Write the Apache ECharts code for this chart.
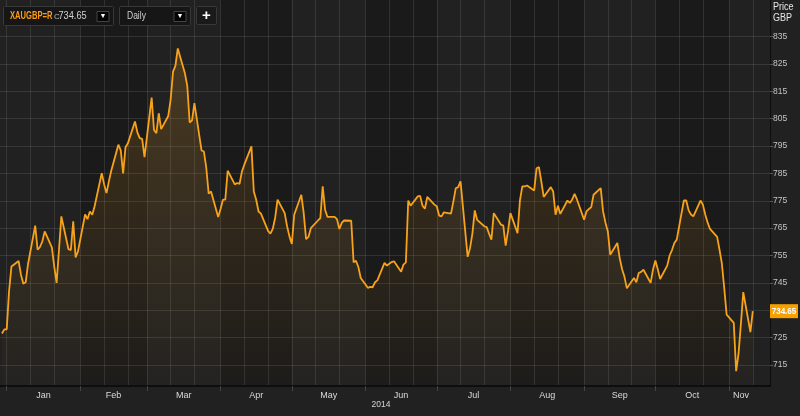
<!DOCTYPE html>
<html>
<head>
<meta charset="utf-8">
<script src="https://cdn.jsdelivr.net/npm/echarts@6/dist/echarts.min.js"></script>
<style>
html,body{margin:0;padding:0;background:#212121;}
#c{width:800px;height:416px;}
</style>
</head>
<body>
<div id="c"></div>
<script>
// ---------------- data ----------------
const symbol = 'XAUGBP=R';
const lastClose = 734.65;
const interval = 'Daily';
const yearLabel = '2014';
const monthNames = ['Jan','Feb','Mar','Apr','May','Jun','Jul','Aug','Sep','Oct','Nov','Dec'];
const yTicks = [715,725,735,745,755,765,775,785,795,805,815,825,835];

// daily closes, one value per weekday of each month
const dec13 = [726.5, 728];
const jan14 = [728, 742, 751, 753, 748, 744.7, 745.2, 752, 765.9, 757.1, 758.1, 760.2, 763.8, 758, 751, 745, 757, 769.3, 757.3, 757, 767.5, 754.3, 756.5];
const feb14 = [770, 768.3, 771.1, 769.9, 773, 785.1, 781, 777.8, 782.1, 786, 795.5, 793.4, 785, 794.6, 796, 804, 800, 797.9, 797.6, 791];
const mar14 = [812.7, 800.9, 799.7, 807, 801.2, 806, 812, 822.2, 824.3, 830.7, 821.6, 817, 803.6, 804.4, 810.7, 793.4, 793, 787, 777.6, 778.4, 769.1];
const apr14 = [772, 775.4, 775.4, 786, 781, 781.5, 781.2, 785.7, 788.2, 794.9, 778.4, 775.4, 771.1, 770.3, 764, 763, 764.8, 768.9, 775.4, 770.5, 765.7, 762];
const may14 = [759.2, 769.9, 777.2, 770.5, 761, 761.8, 765, 767.8, 768.7, 780.3, 771.7, 769.1, 769.1, 768.3, 764.7, 766.9, 767.8, 767.7, 752.5, 753.1, 750.8, 746.8];
const jun14 = [743.2, 743.5, 743.4, 745.2, 745.9, 752.3, 751.3, 752, 752.6, 752.9, 749.1, 751.7, 752.5, 775.1, 773.2, 776.6, 776.8, 773.2, 772.1, 776.4, 773.6];
const jul14 = [773, 769.6, 769.3, 770.8, 770.3, 774.8, 779.6, 780, 782.1, 754.5, 757.7, 763, 771.5, 768, 765.7, 765.4, 763, 760.8, 770.5, 766.3, 765.9, 758.6, 764];
const aug14 = [770.5, 763.2, 775.1, 780.3, 780.3, 780.6, 778.8, 786.9, 787.3, 782.1, 776.4, 780, 778.4, 769.9, 773.2, 770.2, 775.1, 774.2, 775.5, 777.5, 775.5];
const sep14 = [768.1, 771.1, 772, 772.6, 777.2, 779.6, 771.1, 767, 763.8, 755.3, 759.6, 754, 750, 747.2, 743, 746.8, 745.2, 748.6, 749, 749.8, 745, 749.8];
const oct14 = [753.2, 750, 746.4, 751.3, 755, 757, 759.6, 760.8, 775.1, 775.1, 771.5, 770, 769.3, 775.1, 773.6, 770, 767, 764.7, 761.8, 757.1, 752, 743, 733.4];
const nov14 = [730.4, 712.7, 719, 730, 741.6, 727, 734.65];

const months = [
  {y:2013, m:11, from:30, to:31, v:dec13},
  {y:2014, m:0, v:jan14}, {y:2014, m:1, v:feb14}, {y:2014, m:2, v:mar14},
  {y:2014, m:3, v:apr14}, {y:2014, m:4, v:may14}, {y:2014, m:5, v:jun14},
  {y:2014, m:6, v:jul14}, {y:2014, m:7, v:aug14}, {y:2014, m:8, v:sep14},
  {y:2014, m:9, v:oct14}, {y:2014, m:10, from:1, to:11, v:nov14}
];

// ---------------- build series ----------------
const DAY = 864e5;
const series = [];
months.forEach(g => {
  const last = g.to || new Date(Date.UTC(g.y, g.m + 1, 0)).getUTCDate();
  let k = 0;
  for (let d = (g.from || 1); d <= last; d++) {
    const t = Date.UTC(g.y, g.m, d);
    const wd = new Date(t).getUTCDay();
    if (wd === 0 || wd === 6) continue;
    series.push([t, g.v[k++]]);
  }
  if (k !== g.v.length) console.error('count mismatch', g.y, g.m, k, g.v.length);
});
const firstDate = Date.UTC(2014, 0, 1);
const lastDate = series[series.length - 1][0];
const xMin = firstDate - 2.82 * DAY;
const xMax = firstDate + 321.25 * DAY;
const yMin = 707.3, yMax = 848.4;

const monthStarts = [];
for (let m = 0; m < 11; m++) monthStarts.push(Date.UTC(2014, m, 1));
const gridDates = [];
for (let m = 0; m < 11; m++) [1, 11, 21].forEach(d => {
  const t = Date.UTC(2014, m, d);
  if (t <= xMax) gridDates.push(t);
});
const labelDates = monthStarts.map((t, i) => {
  const end = i < monthStarts.length - 1 ? monthStarts[i + 1] : lastDate;
  return (t + end) / 2;
});
const bands = monthStarts.map((t, i) => [t, i < monthStarts.length - 1 ? monthStarts[i + 1] : xMax, i % 2]);

// ---------------- chart ----------------
const FONT = '"Liberation Sans", Arial, sans-serif';
const chart = echarts.init(document.getElementById('c'), null, {renderer: 'canvas'});
const orange = '#f7a21b';

const option = {
  backgroundColor: '#212121',
  animation: false,
  grid: {left: 0, right: 30, top: 0, bottom: 30, containLabel: false},
  xAxis: [
    {
      type: 'value', min: xMin, max: xMax,
      axisLine: {show: false},
      axisTick: {show: false, customValues: gridDates},
      axisLabel: {show: false},
      splitLine: {show: true, lineStyle: {color: 'rgba(255,255,255,0.1)', width: 1}}
    },
    {
      type: 'value', min: xMin, max: xMax, position: 'bottom',
      axisLine: {show: true, onZero: false, lineStyle: {color: '#0d0d0d', width: 2}},
      axisTick: {show: true, customValues: monthStarts, length: 5, lineStyle: {color: '#444'}},
      axisLabel: {
        show: true, customValues: labelDates, color: '#dadada', fontSize: 9,
        fontFamily: FONT, margin: 5,
        formatter: v => monthNames[new Date(v).getUTCMonth()]
      },
      splitLine: {show: false}
    }
  ],
  yAxis: {
    type: 'value', position: 'right', min: yMin, max: yMax,
    axisLine: {show: true, lineStyle: {color: '#0d0d0d', width: 1}},
    axisTick: {show: true, customValues: yTicks, length: 3, lineStyle: {color: '#555'}},
    axisLabel: {show: true, customValues: yTicks, color: '#c4c4c4', fontSize: 8.5, fontFamily: FONT, margin: 3},
    splitLine: {show: true, lineStyle: {color: 'rgba(255,255,255,0.1)', width: 1}}
  },
  series: [
    {
      type: 'custom', z: -1, silent: true, clip: true,
      data: bands,
      encode: {x: [0, 1]},
      renderItem: (params, api) => {
        const a = api.coord([api.value(0), yMax]);
        const b = api.coord([api.value(1), yMin]);
        return {
          type: 'rect',
          shape: {x: a[0], y: a[1], width: b[0] - a[0], height: b[1] - a[1]},
          style: {fill: api.value(2) ? '#1a1a1a' : '#212121'}
        };
      }
    },
    {
      type: 'line', z: 3, data: series, showSymbol: false, symbol: 'none',
      lineStyle: {color: orange, width: 1.8},
      areaStyle: {
        origin: 'start',
        color: new echarts.graphic.LinearGradient(0, 0, 0, 1, [
          {offset: 0, color: 'rgba(247,162,27,0.27)'},
          {offset: 1, color: 'rgba(247,162,27,0.02)'}
        ])
      }
    }
  ]
};
chart.setOption(option);

const yLast = chart.convertToPixel({yAxisIndex: 0}, lastClose);
const txt = (x, y, s, o, extra) => Object.assign({type: 'text', x, y, z: 100,
  style: Object.assign({text: s, fill: '#cfcfcf', fontSize: 9, fontFamily: FONT, verticalAlign: 'middle'}, o || {})}, extra || {});
chart.setOption({
  graphic: [
    {type: 'rect', z: 90, shape: {x: 3.5, y: 6.5, width: 110, height: 19, r: 1}, style: {fill: '#161616', stroke: '#383838', lineWidth: 1}},
    txt(10, 16.5, symbol, {fill: '#ff9d12', fontWeight: 'bold', fontSize: 10}, {scaleX: 0.76}),
    txt(54, 16.5, 'C', {fontSize: 8, fill: '#bbbbbb'}),
    txt(58.5, 16.5, lastClose.toFixed(2), {fill: '#d0d0d0', fontSize: 10}, {scaleX: 0.92}),
    {type: 'rect', z: 95, shape: {x: 97, y: 11.5, width: 12, height: 10}, style: {fill: '#050505', stroke: '#444', lineWidth: 1}},
    txt(103, 16.5, '▼', {fill: '#ffffff', fontSize: 7, align: 'center'}),
    {type: 'rect', z: 90, shape: {x: 119.5, y: 6.5, width: 71, height: 19, r: 1}, style: {fill: '#161616', stroke: '#383838', lineWidth: 1}},
    txt(127, 16.5, interval, {fill: '#cfcfcf', fontSize: 10}, {scaleX: 0.85}),
    {type: 'rect', z: 95, shape: {x: 174, y: 11.5, width: 12, height: 10}, style: {fill: '#050505', stroke: '#444', lineWidth: 1}},
    txt(180, 16.5, '▼', {fill: '#ffffff', fontSize: 7, align: 'center'}),
    {type: 'rect', z: 90, shape: {x: 196.5, y: 6.5, width: 20, height: 18, r: 1}, style: {fill: '#1a1a1a', stroke: '#383838', lineWidth: 1}},
    txt(206.5, 15.5, '+', {fill: '#ffffff', fontSize: 15, fontWeight: 'bold', align: 'center'}),
    txt(773, 7.5, 'Price', {fill: '#e6e6e6', fontSize: 10}, {scaleX: 0.9}),
    txt(773, 18.5, 'GBP', {fill: '#e6e6e6', fontSize: 10}, {scaleX: 0.9}),
    txt(381, 404.5, yearLabel, {align: 'center', fill: '#d6d6d6', fontSize: 8.5}),
    {type: 'rect', z: 100, shape: {x: 770, y: yLast - 7, width: 28, height: 14}, style: {fill: '#f7a000'}},
    txt(784, yLast, lastClose.toFixed(2), {fill: '#ffffff', fontWeight: 'bold', align: 'center', fontSize: 9.5}, {z: 101, scaleX: 0.85}),
  ]
});
</script>
</body>
</html>
